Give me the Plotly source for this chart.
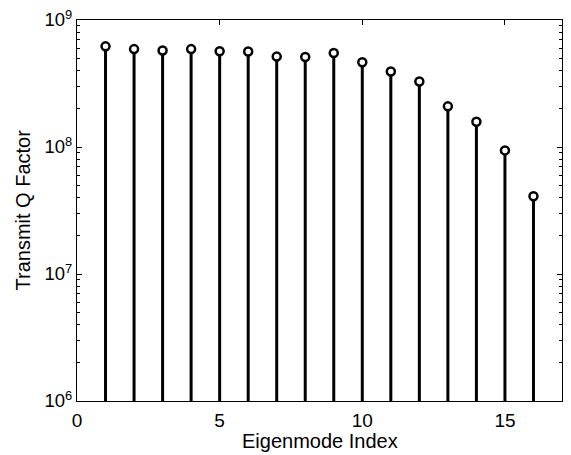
import plotly.graph_objects as go

# Data
mode_index = list(range(1, 17))
q_factor = [6.2e8, 5.9e8, 5.75e8, 5.9e8, 5.68e8, 5.65e8, 5.15e8, 5.12e8,
            5.5e8, 4.65e8, 3.93e8, 3.28e8, 2.09e8, 1.58e8, 9.4e7, 4.1e7]
y_tick_vals = [1e6, 1e7, 1e8, 1e9]
y_tick_text = ["10<sup>6</sup>", "10<sup>7</sup>", "10<sup>8</sup>", "10<sup>9</sup>"]
x_tick_vals = [0, 5, 10, 15]
stem_base = 1e6
y_minor_vals = [k * 10 ** e for e in (6, 7, 8) for k in range(2, 10)]
x_title = "Eigenmode Index"
y_title = "Transmit Q Factor"

sx, sy = [], []
for xi, yi in zip(mode_index, q_factor):
    sx += [xi, xi, None]
    sy += [stem_base, yi, None]

font = "Liberation Sans, Arial, Helvetica, sans-serif"

fig = go.Figure()
fig.add_trace(go.Scatter(x=sx, y=sy, mode="lines",
                         line=dict(color="black", width=3),
                         hoverinfo="skip", showlegend=False))
fig.add_trace(go.Scatter(x=mode_index, y=q_factor, mode="markers",
                         marker=dict(symbol="circle", size=8, color="white",
                                     line=dict(color="black", width=2.5)),
                         showlegend=False))

# page body has an 8px default margin; the figure is sized to fit the window
fig.update_layout(
    width=563, height=447,
    margin=dict(l=69, r=9, t=11.5, b=53.5, autoexpand=False),
    paper_bgcolor="white", plot_bgcolor="white",
    font=dict(family=font, size=19, color="black"),
)
fig.update_xaxes(
    range=[0, 17], tickvals=x_tick_vals, ticks="inside", ticklen=5,
    tickcolor="black", tickwidth=1, showline=True, linecolor="black",
    linewidth=1, mirror="allticks", showgrid=False, zeroline=False,
    tickfont=dict(size=19), ticklabelstandoff=2, automargin=False,
    ticklabeloverflow="allow",
)
fig.update_yaxes(
    type="log", range=[6, 9], tickvals=y_tick_vals, ticktext=y_tick_text,
    ticks="inside", ticklen=5, tickcolor="black", tickwidth=1,
    showline=True, linecolor="black", linewidth=1, mirror="allticks",
    showgrid=False, zeroline=False, tickfont=dict(size=18.5), automargin=False,
    ticklabeloverflow="allow",
    minor=dict(tickvals=y_minor_vals, ticks="inside", ticklen=3,
               tickcolor="black", showgrid=False),
)
fig.add_annotation(text=x_title, xref="paper", yref="paper", x=0.5, y=0,
                   xanchor="center", yanchor="middle", yshift=-39.5,
                   showarrow=False, font=dict(size=20))
fig.add_annotation(text=y_title, xref="paper", yref="paper", x=0, y=0.5,
                   xanchor="center", yanchor="middle", xshift=-55, textangle=-90,
                   showarrow=False, font=dict(size=20))

fig.write_html("out.html")
